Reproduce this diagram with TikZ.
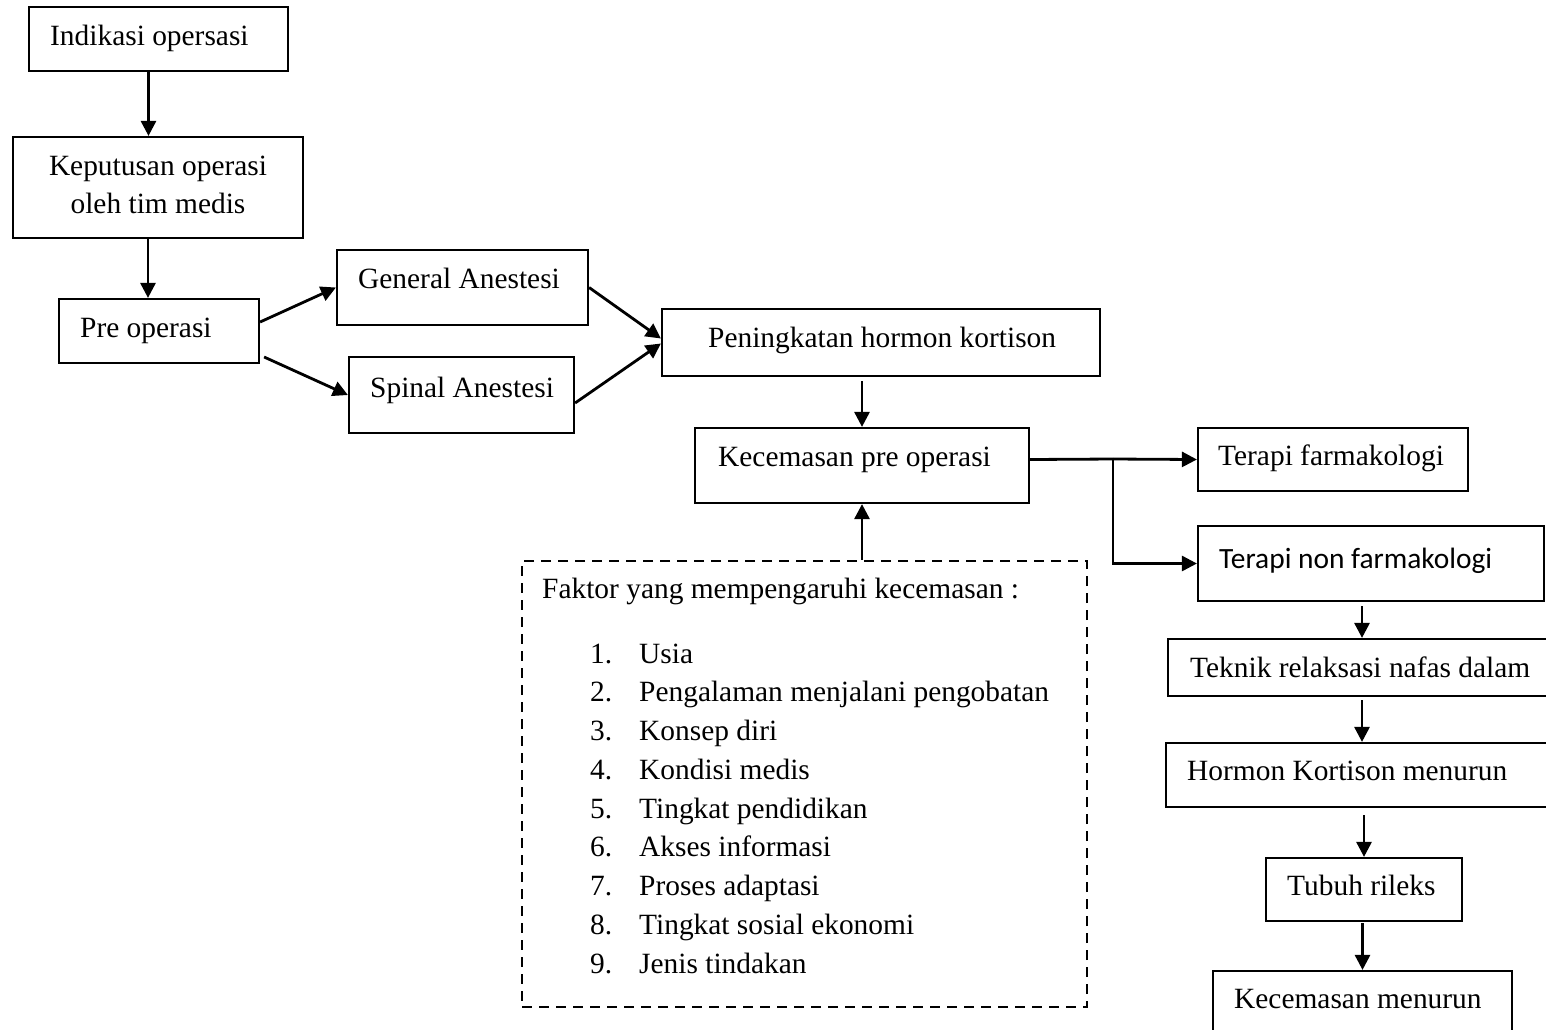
\documentclass[tikz,border=0pt]{standalone}
\usepackage{fontspec}
\setmainfont{Liberation Serif}
\newfontfamily\calib{Carlito}
\usetikzlibrary{arrows.meta,fit,calc}
\newcommand{\fs}{\fontsize{29.4}{38}\selectfont}
\begin{document}
\begin{tikzpicture}[x=1pt,y=-1pt,
  box/.style={draw, line width=2.2pt, inner sep=0pt, rectangle},
  dbox/.style={draw, line width=2.4pt, inner sep=0pt, rectangle, dash pattern=on 10pt off 7pt},
  txt/.style={anchor=base west, inner sep=0pt, font=\fs},
  txtc/.style={anchor=base, inner sep=0pt, font=\fs},
  arr/.style={line width=2.8pt, -{Triangle[length=15pt,width=15pt]}},
  ln/.style={line width=2.8pt}]
\useasboundingbox (0,0) rectangle (1546,1029);

% boxes
\node[box, fit={(29,7) (288,71)}] (ind) {};
\node[box, fit={(13,137) (303,238)}] (kep) {};
\node[box, fit={(59,299) (259,363)}] (pre) {};
\node[box, fit={(337,250) (588,325)}] (gen) {};
\node[box, fit={(349,357) (574,433)}] (spi) {};
\node[box, fit={(662,309) (1100,376)}] (pen) {};
\node[box, fit={(695,428) (1029,503)}] (kec) {};
\node[dbox, fit={(522,561) (1087,1007)}] (fak) {};
\node[box, fit={(1198,428) (1468,491)}] (tf) {};
\node[box, fit={(1198,526) (1544,601)}] (tnf) {};
\node[box, fit={(1168,639) (1556,696)}] (tek) {};
\node[box, fit={(1166,743) (1558,807)}] (hor) {};
\node[box, fit={(1266,858) (1462,921)}] (tub) {};
\node[box, fit={(1213,971) (1512,1040)}] (kmn) {};

% texts
\node[txt] (t1) at (50,45) {Indikasi opersasi};
\node[txtc] (t2a) at (158,175) {Keputusan operasi};
\node[txtc] (t2b) at (158,213) {oleh tim medis};
\node[txt] (t3) at (80,337) {Pre operasi};
\node[txt] (t4) at (358,288) {General Anestesi};
\node[txt] (t5) at (370,397) {Spinal Anestesi};
\node[txt] (t6) at (708,347) {Peningkatan hormon kortison};
\node[txt] (t7) at (718,466) {Kecemasan pre operasi};
\node[txt] (t8) at (1218,465) {Terapi farmakologi};
\node[txt, font=\calib\fs] (t9) at (1219,568) {Terapi non farmakologi};
\node[txt] (t10) at (1190,677) {Teknik relaksasi nafas dalam};
\node[txt] (t11) at (1187,780) {Hormon Kortison menurun};
\node[txt] (t12) at (1287,895) {Tubuh rileks};
\node[txt] (t13) at (1234,1008) {Kecemasan menurun};

\node[txt] (f0) at (542,598) {Faktor yang mempengaruhi kecemasan :};
\foreach \n/\t [count=\i from 0] in {1/Usia,2/Pengalaman menjalani pengobatan,3/Konsep diri,4/Kondisi medis,5/Tingkat pendidikan,6/Akses informasi,7/Proses adaptasi,8/Tingkat sosial ekonomi,9/Jenis tindakan}{
  \node[txt] (fn\n) at (590,663+38.75*\i) {\n.};
  \node[txt] (ft\n) at (639,663+38.75*\i) {\t};
}

% connectors
\draw[arr] ([xshift=-10pt]ind.south) -- ([xshift=-10pt]ind.south |- kep.north);
\draw[arr] ([xshift=-10pt]kep.south) -- ([xshift=-10pt]kep.south |- pre.north);
\draw[arr] ([yshift=9pt]pre.east) -- (gen.west);
\draw[arr] ([xshift=4pt,yshift=-26pt]pre.east) -- (spi.west);
\draw[arr] (gen.east) -- ([yshift=4pt]pen.west);
\draw[arr] ([yshift=-8pt]spi.east) -- ([yshift=-1pt]pen.west);
\draw[arr] ([yshift=-4pt]pen.south -| kec.north) -- (kec.north);
\draw[arr] (fak.north -| kec.south) -- (kec.south);
\coordinate (j) at (1113,459);
\draw[ln] (kec.east |- tf.west) -- (j);
\draw[arr] (j) -- (tf.west);
\draw[arr] (j) |- (tnf.west);
\draw[arr] ([yshift=-4pt]tnf.south -| tek.north) -- (tek.north);
\draw[arr] ([yshift=-3pt]tek.south) -- (hor.north);
\draw[arr] ([yshift=-7pt]hor.south -| tub.north) -- (tub.north);
\draw[arr] ([yshift=-1pt]tub.south -| kmn.north) -- (kmn.north);
\end{tikzpicture}
\end{document}
